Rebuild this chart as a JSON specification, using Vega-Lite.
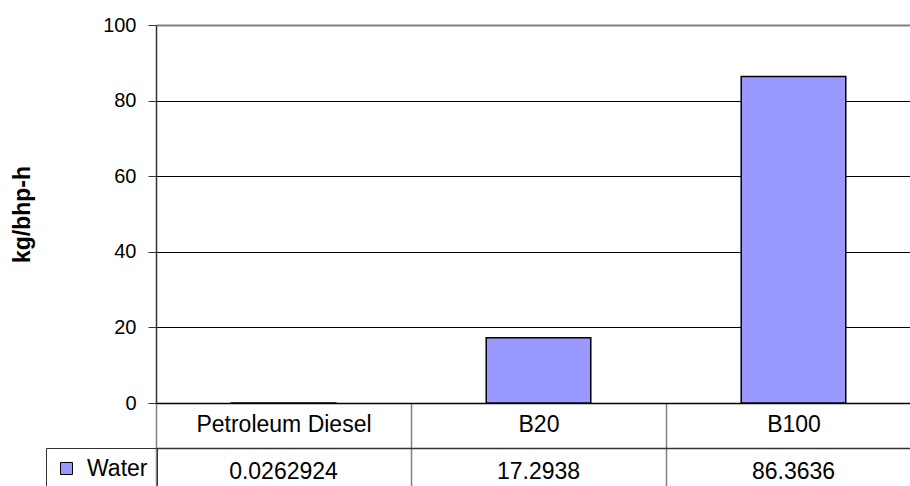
{
  "$schema": "https://vega.github.io/schema/vega-lite/v6.json",
  "padding": {"left": 11, "top": 15, "right": 0, "bottom": 0},
  "background": "white",
  "config": {
    "font": "Liberation Sans",
    "view": {"stroke": null},
    "concat": {"spacing": 45}
  },
  "data": {
    "values": [
      {"fuel": "Petroleum Diesel", "series": "Water", "value": 0.0262924},
      {"fuel": "B20", "series": "Water", "value": 17.2938},
      {"fuel": "B100", "series": "Water", "value": 86.3636}
    ]
  },
  "bounds": "flush",
  "vconcat": [
    {
      "width": 765,
      "height": 378,
      "mark": {"type": "bar", "stroke": "black", "strokeWidth": 1.5, "width": {"band": 0.41}},
      "encoding": {
        "x": {
          "field": "fuel",
          "type": "nominal",
          "sort": ["Petroleum Diesel", "B20", "B100"],
          "scale": {"paddingInner": 0, "paddingOuter": 0},
          "axis": {
            "title": null,
            "labelAngle": 0,
            "labelFontSize": 23,
            "labelColor": "black",
            "labelBaseline": "middle",
            "labelPadding": -24,
            "tickBand": "extent",
            "tickSize": 45,
            "tickColor": "#808080",
            "tickWidth": 1.5,
            "domainColor": "black",
            "domainWidth": 1.5,
            "grid": false
          }
        },
        "y": {
          "field": "value",
          "type": "quantitative",
          "scale": {"domain": [0, 100]},
          "axis": {
            "title": "kg/bhp-h",
            "titleFontSize": 23,
            "titleFontWeight": "bold",
            "titleColor": "black",
            "titlePadding": 68,
            "values": [0, 20, 40, 60, 80, 100],
            "labelFontSize": 20,
            "labelColor": "black",
            "labelPadding": 12,
            "tickSize": 8,
            "tickColor": "#333",
            "domainColor": "#333",
            "domainWidth": 1.5,
            "grid": true,
            "gridColor": {"condition": {"test": "datum.value === 100", "value": "#808080"}, "value": "black"},
            "gridWidth": {"condition": {"test": "datum.value === 100", "value": 2}, "value": 1}
          }
        },
        "color": {
          "field": "series",
          "type": "nominal",
          "scale": {"range": ["#9999FF"]},
          "legend": {
            "title": null,
            "orient": "none",
            "legendX": -110,
            "legendY": 423,
            "strokeColor": "#333",
            "padding": 9,
            "symbolType": "square",
            "symbolSize": 144,
            "symbolStrokeColor": "black",
            "symbolStrokeWidth": 1,
            "labelFontSize": 23,
            "labelColor": "black",
            "labelOffset": 9
          }
        }
      }
    },
    {
      "width": 765,
      "height": 48,
      "mark": {"type": "text", "fontSize": 23, "color": "black", "baseline": "middle"},
      "encoding": {
        "x": {
          "field": "fuel",
          "type": "nominal",
          "sort": ["Petroleum Diesel", "B20", "B100"],
          "scale": {"type": "band", "paddingInner": 0, "paddingOuter": 0},
          "axis": {
            "orient": "top",
            "title": null,
            "labels": false,
            "ticks": false,
            "domainColor": "#333",
            "domainWidth": 1.5,
            "grid": true,
            "tickBand": "extent",
            "gridColor": "#808080",
            "gridWidth": 1.5
          }
        },
        "text": {"field": "value", "type": "nominal"}
      }
    }
  ]
}
